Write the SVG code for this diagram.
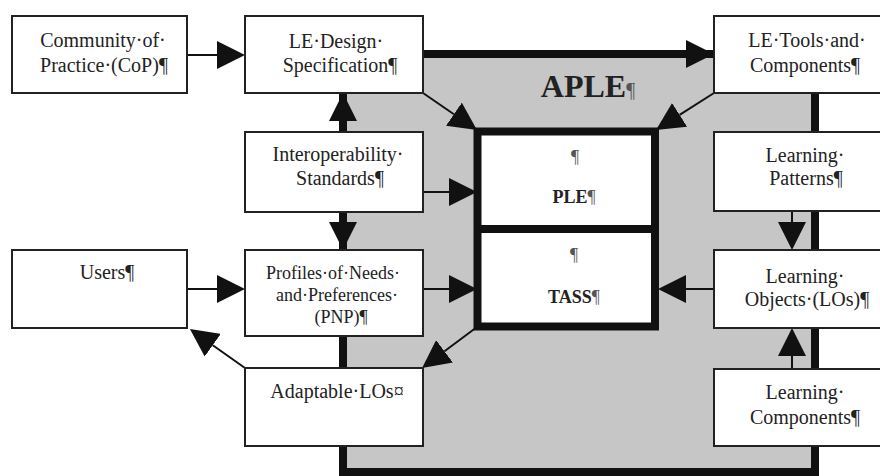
<svg xmlns="http://www.w3.org/2000/svg" width="880" height="476" viewBox="0 0 880 476">
<style>
.box{fill:#fff;stroke:#222;stroke-width:2}
.t{font-family:"Liberation Serif","Times New Roman",serif;font-size:20px;fill:#222;text-anchor:middle}
.s{font-size:18px}
.b{font-weight:bold}
.pm{font-weight:normal;fill:#555}
.c{stroke:#111;stroke-width:2;fill:none}
.ck{stroke:#111;stroke-width:8;fill:none}
</style>
<defs>
<marker id="ah" markerUnits="userSpaceOnUse" markerWidth="28" markerHeight="28" viewBox="0 -14 28 28" refX="0" refY="0" orient="auto">
<path d="M0,-14 L28,0 L0,14 Z" fill="#111"/>
</marker>
</defs>
<rect width="880" height="476" fill="#fff"/>
<g id="aple">
<rect x="343" y="54" width="472" height="418" fill="#c6c6c6" stroke="#111" stroke-width="8"/>
<text class="t b" x="588" y="97" style="font-size:32px">APLE<tspan class="pm" style="font-size:20px">¶</tspan></text>
</g>
<g id="connectors">
<line class="c" x1="187" y1="55" x2="217" y2="55" marker-end="url(#ah)"/>
<line class="ck" x1="423" y1="54" x2="686" y2="54" marker-end="url(#ah)"/>
<line class="ck" x1="343" y1="132" x2="343" y2="121" marker-end="url(#ah)"/>
<line class="ck" x1="343" y1="212" x2="343" y2="222" marker-end="url(#ah)"/>
<line class="c" x1="423" y1="93" x2="453.9" y2="114.2" marker-end="url(#ah)"/>
<line class="c" x1="714" y1="93" x2="679.6" y2="114.9" marker-end="url(#ah)"/>
<line class="c" x1="423" y1="192" x2="449" y2="192" marker-end="url(#ah)"/>
<line class="c" x1="423" y1="289" x2="449" y2="289" marker-end="url(#ah)"/>
<line class="c" x1="714" y1="289" x2="686" y2="289" marker-end="url(#ah)"/>
<line class="c" x1="792" y1="211" x2="792" y2="222" marker-end="url(#ah)"/>
<line class="c" x1="792" y1="369" x2="792" y2="356" marker-end="url(#ah)"/>
<line class="c" x1="187" y1="289" x2="217" y2="289" marker-end="url(#ah)"/>
<line class="c" x1="477" y1="327" x2="444.5" y2="351.3" marker-end="url(#ah)"/>
<line class="c" x1="245" y1="368" x2="212.8" y2="345.2" marker-end="url(#ah)"/>
</g>
<g id="ple-tass">
<rect x="477.5" y="131.5" width="177.5" height="195" fill="#fff" stroke="#111" stroke-width="8"/>
<line x1="477.5" y1="229" x2="655" y2="229" stroke="#111" stroke-width="8"/>
</g>
<g id="ple">
<text class="t s pm" x="575" y="163">¶</text>
<text class="t s b" x="574" y="203">PLE<tspan class="pm">¶</tspan></text>
</g>
<g id="tass">
<text class="t s pm" x="574" y="261">¶</text>
<text class="t s b" x="574" y="303">TASS<tspan class="pm">¶</tspan></text>
</g>
<g id="cop">
<rect class="box" x="12" y="16" width="175" height="77"/>
<text class="t" x="103" y="47">Community·of·</text>
<text class="t" x="104" y="72">Practice·(CoP)¶</text>
</g>
<g id="le-design">
<rect class="box" x="245" y="16" width="178" height="77"/>
<text class="t" x="336" y="48">LE·Design·</text>
<text class="t" x="340" y="72">Specification¶</text>
</g>
<g id="interop">
<rect class="box" x="245" y="132" width="178" height="80"/>
<text class="t" x="338" y="161">Interoperability·</text>
<text class="t" x="340" y="185">Standards¶</text>
</g>
<g id="users">
<rect class="box" x="12" y="250" width="175" height="78"/>
<text class="t" x="107" y="279">Users¶</text>
</g>
<g id="pnp">
<rect class="box" x="245" y="250" width="178" height="86"/>
<text class="t s" x="333" y="279">Profiles·of·Needs·</text>
<text class="t s" x="337" y="301">and·Preferences·</text>
<text class="t s" x="341" y="323">(PNP)¶</text>
</g>
<g id="adaptable">
<rect class="box" x="245" y="368" width="178" height="78"/>
<text class="t" x="337" y="398">Adaptable·LOs¤</text>
</g>
<g id="le-tools">
<rect class="box" x="714" y="16" width="180" height="77"/>
<text class="t" x="807" y="47">LE·Tools·and·</text>
<text class="t" x="805" y="72">Components¶</text>
</g>
<g id="patterns">
<rect class="box" x="714" y="132" width="180" height="79"/>
<text class="t" x="805" y="162">Learning·</text>
<text class="t" x="806" y="185">Patterns¶</text>
</g>
<g id="objects">
<rect class="box" x="714" y="250" width="180" height="78"/>
<text class="t" x="805" y="283">Learning·</text>
<text class="t" x="807" y="306">Objects·(LOs)¶</text>
</g>
<g id="components">
<rect class="box" x="714" y="369" width="180" height="77"/>
<text class="t" x="805" y="399">Learning·</text>
<text class="t" x="805" y="424">Components¶</text>
</g>
</svg>
